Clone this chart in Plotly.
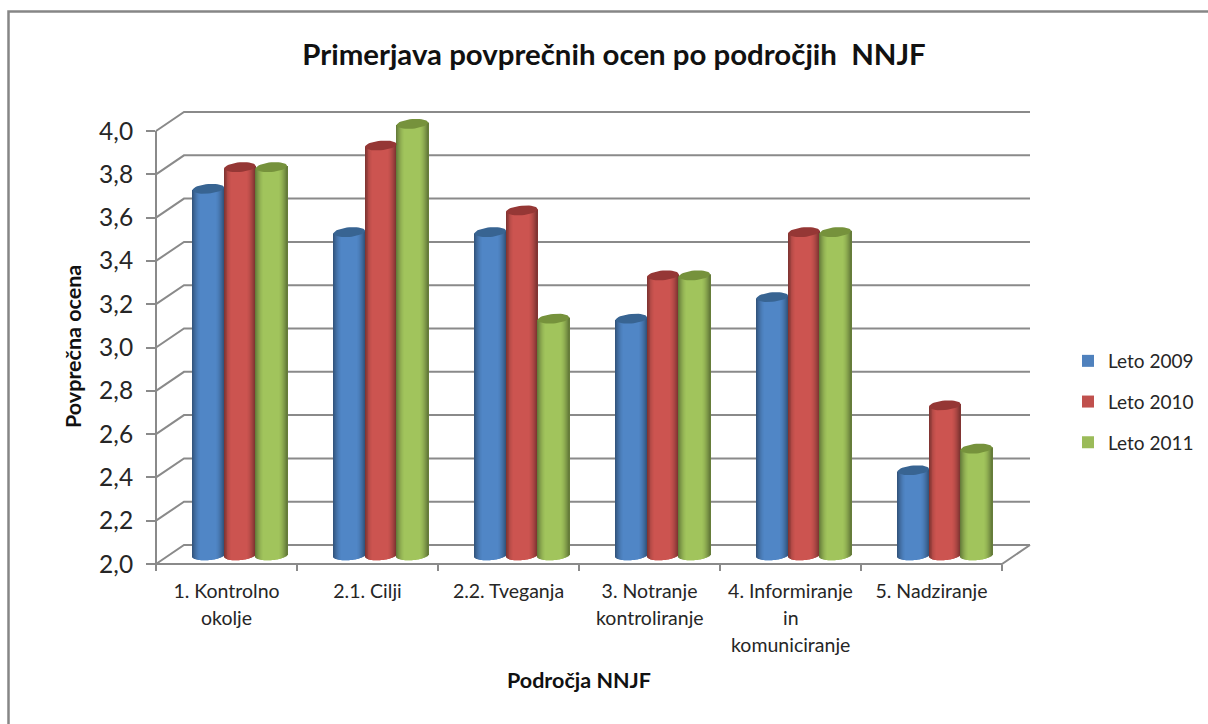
import math
import plotly.graph_objects as go

categories = [["1. Kontrolno", "okolje"], ["2.1. Cilji"], ["2.2. Tveganja"],
              ["3. Notranje", "kontroliranje"], ["4. Informiranje", "in", "komuniciranje"], ["5. Nadziranje"]]
leto_2009 = [3.7, 3.5, 3.5, 3.1, 3.2, 2.4]
leto_2010 = [3.8, 3.9, 3.6, 3.3, 3.5, 2.7]
leto_2011 = [3.8, 4.0, 3.1, 3.3, 3.5, 2.5]
series_names = ["Leto 2009", "Leto 2010", "Leto 2011"]
y_ticks = [2.0, 2.2, 2.4, 2.6, 2.8, 3.0, 3.2, 3.4, 3.6, 3.8, 4.0]

series = [leto_2009, leto_2010, leto_2011]
mid_col = [(79, 129, 189), (192, 80, 77), (155, 187, 89)]
bright = [(80, 134, 198), (204, 84, 80), (161, 196, 92)]
cap_col = ["#386492", "#953735", "#76923c"]

W, H = 1208, 724
L, T, PLOT_R, PLOT_B = 156, 112, 1030, 564
PX = 141.0          # pixels per category
PY = 216.5          # pixels per value unit
dx = (PLOT_R - L - 6 * PX) / PX
dy = (PLOT_B - T - 2 * PY) / PY
xmax, ymin, ymax = 6 + dx, 2.0, 2.0 + (PLOT_B - T) / PY

cyl_w = 31.5 / PX
rx_px, ry_px, tilt_px = 15.75, 4.8, 1.3
N = 32


def xp(x):
    return x / xmax


def yp(v):
    return (v - ymin) / (ymax - ymin)


def shade(c, t):
    a = abs(t)
    f = 1.0 if a < 0.45 else 1.0 - 0.40 * ((a - 0.45) / 0.55) ** 1.6
    return "rgb(%d,%d,%d)" % tuple(round(k * f) for k in c)


fig = go.Figure()

for s, (vals, name) in enumerate(zip(series, series_names)):
    centers = [i + 0.5 + (dx / 2 - 0.7 / PX) + (s - 1) * cyl_w for i in range(len(vals))]
    for j in range(N):
        t = -1 + (2 * j + 1) / N
        bottom = 2.04 - ry_px / PY * math.sqrt(1 - t * t) + tilt_px / PY * t
        tops = [v + 0.033 + tilt_px / PY * t for v in vals]
        fig.add_trace(go.Bar(
            x=[c + t * cyl_w / 2 for c in centers],
            y=[tp - bottom for tp in tops],
            base=bottom,
            width=cyl_w / N,
            marker=dict(color=shade(bright[s], t), line=dict(width=0)),
            name=name,
            legendgroup=name,
            showlegend=False,
            hoverinfo="skip",
        ))
    # legend entry
    fig.add_trace(go.Bar(
        x=[None], y=[None], name=name, legendgroup=name, showlegend=True,
        marker=dict(color="rgb(%d,%d,%d)" % mid_col[s], line=dict(width=0)),
    ))
    # top caps
    cx, cy = [], []
    for c, v in zip(centers, vals):
        for k in range(41):
            a = 2 * math.pi * k / 40
            cx.append(c + rx_px / PX * math.cos(a))
            cy.append(v + 0.033 + ry_px / PY * math.sin(a) + tilt_px / PY * math.cos(a))
        cx.append(None)
        cy.append(None)
    fig.add_trace(go.Scatter(x=cx, y=cy, mode="lines", fill="toself", fillcolor=cap_col[s],
                             line=dict(width=0, color=cap_col[s]), legendgroup=name,
                             showlegend=False, hoverinfo="skip"))

GRID = "#8a8a8a"
shapes = [dict(type="rect", xref="paper", yref="paper",
               x0=(8.5 - L) / (PLOT_R - L), x1=(1230 - L) / (PLOT_R - L),
               y0=(PLOT_B - 740) / (PLOT_B - T), y1=(PLOT_B - 11.5) / (PLOT_B - T),
               line=dict(color="#868686", width=2.5), layer="below")]
for v in y_ticks:
    shapes.append(dict(type="path", xref="paper", yref="paper", layer="below",
                       path=f"M{xp(0)},{yp(v)} L{xp(dx)},{yp(v + dy)} L{xp(6 + dx)},{yp(v + dy)}",
                       line=dict(color=GRID, width=2)))
shapes.append(dict(type="path", xref="paper", yref="paper", layer="below",
                   path=f"M{xp(0)},{yp(4.0)} L{xp(0)},{yp(2.0)} L{xp(6)},{yp(2.0)} L{xp(6 + dx)},{yp(2.0 + dy)}",
                   line=dict(color=GRID, width=2)))

LBL = "#262626"
annotations = []
for i, lines in enumerate(categories):
    for n, extra in enumerate(lines[1:], start=1):
        annotations.append(dict(text=extra, x=i + 0.5, xref="x", y=0, yref="paper", yanchor="middle",
                                yshift=-(27 + 26.5 * n), showarrow=False,
                                font=dict(family="Lato", size=19.5, color=LBL)))
TITLE_FONT = dict(family="Lato", size=21.5, color="#111111", weight="bold")
annotations.append(dict(text="Područja NNJF".replace("Područja", "Področja"),
                        x=(578.5 - L) / (PLOT_R - L), xref="paper", xanchor="center",
                        y=(PLOT_B - 680) / (PLOT_B - T), yref="paper", yanchor="middle",
                        showarrow=False, font=TITLE_FONT))
annotations.append(dict(text="Povprečna ocena", textangle=-90,
                        x=(73 - L) / (PLOT_R - L), xref="paper", xanchor="center",
                        y=(PLOT_B - 347) / (PLOT_B - T), yref="paper", yanchor="middle",
                        showarrow=False, font=TITLE_FONT))

fig.update_layout(
    width=W, height=H, autosize=False,
    margin=dict(l=L, r=W - PLOT_R, t=T, b=H - PLOT_B, pad=0, autoexpand=False),
    paper_bgcolor="white", plot_bgcolor="rgba(0,0,0,0)",
    barmode="overlay", separators=", ",
    title=dict(text="Primerjava povprečnih ocen po področjih  NNJF", x=(614 / W), xanchor="center",
               y=1 - 55 / H, yanchor="middle", font=dict(family="Lato", size=29.4, color="#111111", weight="bold")),
    xaxis=dict(range=[0, xmax], showgrid=False, zeroline=False, showline=False,
               tickmode="array", tickvals=[i + 0.5 for i in range(6)], ticktext=[c[0] for c in categories],
               ticks="", ticklabelstandoff=13, tickangle=0,
               tickfont=dict(family="Lato", size=19.5, color=LBL),
               minor=dict(tickmode="array", tickvals=list(range(7)), ticks="outside", ticklen=6,
                          tickwidth=2, tickcolor=GRID)),
    yaxis=dict(range=[ymin, ymax], showgrid=False, zeroline=False, showline=False,
               tickmode="array", tickvals=y_ticks, tickformat=".1f", ticks="outside", ticklen=9,
               tickwidth=2, tickcolor=GRID, ticklabelstandoff=8,
               tickfont=dict(family="Lato", size=24.5, color=LBL)),
    legend=dict(x=(1068 - L) / (PLOT_R - L), xanchor="left", y=(PLOT_B - 342) / (PLOT_B - T), yanchor="top",
                tracegroupgap=13, font=dict(family="Lato", size=19, color=LBL), bgcolor="rgba(0,0,0,0)",
                itemclick=False, itemdoubleclick=False),
    shapes=shapes,
    annotations=annotations,
)

fig.write_html("out.html", config={"displayModeBar": False}, post_script="document.body.style.margin='0';")
